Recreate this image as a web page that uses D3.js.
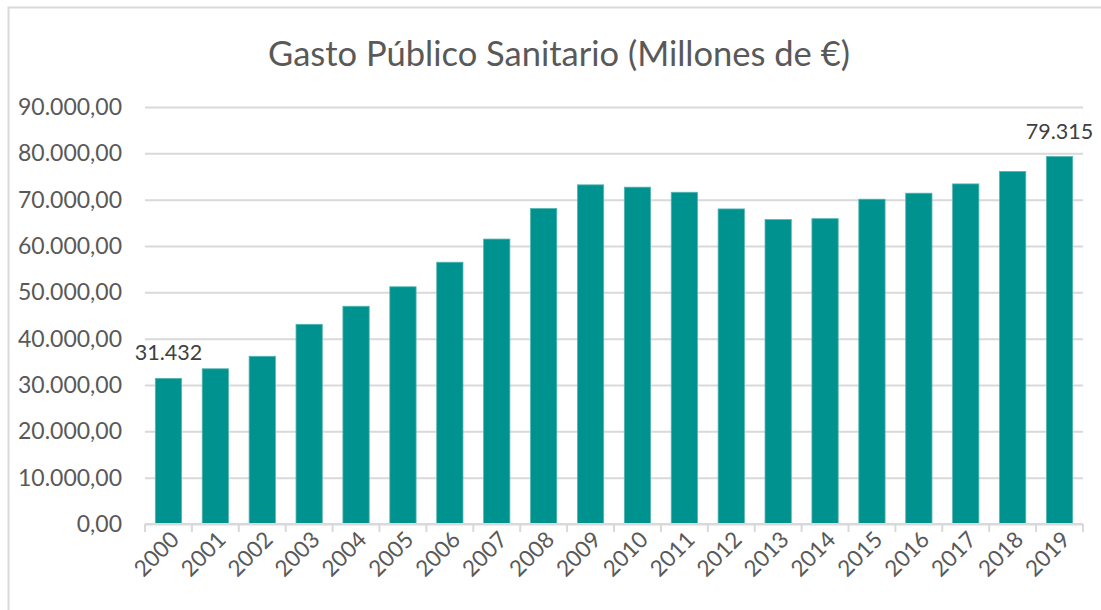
<!DOCTYPE html>
<html lang="es">
<head>
  <meta charset="UTF-8">
  <title>Gasto Público Sanitario</title>
  <script src="https://d3js.org/d3.v7.min.js"></script>
  <style>
    body { margin: 0; background: #fff; }
    svg { display: block; font-family: Lato, "Open Sans", sans-serif; }
  </style>
</head>
<body>
  <div class="canvas"></div>
  <script>
    // datos
    const years = ['2000','2001','2002','2003','2004','2005','2006','2007','2008','2009',
                   '2010','2011','2012','2013','2014','2015','2016','2017','2018','2019'];
    const gasto = [31432, 33500, 36200, 43100, 47000, 51200, 56500, 61500, 68100, 73200,
                   72700, 71600, 68000, 65700, 65900, 70100, 71400, 73400, 76100, 79315];
    const yTicks = [0, 10000, 20000, 30000, 40000, 50000, 60000, 70000, 80000, 90000];
    const labelled = ['2000', '2019'];
    const title = 'Gasto Público Sanitario (Millones de €)';

    const width = 1101;
    const height = 610;
    const [mt, mb, mr, ml] = [107, 86, 18, 145];
    const graphWidth = width - ml - mr;
    const graphHeight = height - mt - mb;

    const svg = d3.select('.canvas')
                  .append('svg')
                  .attr('width', width)
                  .attr('height', height);

    // marco del gráfico
    svg.append('rect')
       .attr('x', 8.5).attr('y', 7.5)
       .attr('width', 1200).attr('height', 700)
       .attr('fill', 'none')
       .attr('stroke', '#d9d9d9')
       .attr('stroke-width', 2);

    svg.append('text')
       .attr('x', 559).attr('y', 66)
       .attr('text-anchor', 'middle')
       .attr('font-size', 34.5)
       .attr('fill', '#595959')
       .text(title);

    const graph = svg.append('g')
                     .attr('transform', `translate(${ml}, ${mt})`);

    const x = d3.scaleBand()
                .domain(years)
                .range([0, graphWidth])
                .paddingInner(0.44)
                .paddingOuter(0.22);

    const y = d3.scaleLinear()
                .domain([0, 90000])
                .range([graphHeight, 0]);

    const fmt = d3.formatLocale({ decimal: ',', thousands: '.', grouping: [3], currency: ['', '€'] });

    // eje y (solo etiquetas + rejilla)
    const yAxis = d3.axisLeft(y)
                    .tickValues(yTicks)
                    .tickSize(-graphWidth)
                    .tickPadding(23)
                    .tickFormat(fmt.format(',.2f'));

    graph.append('g')
         .call(yAxis)
         .call(g => g.select('.domain').remove())
         .call(g => g.selectAll('.tick line').attr('stroke', '#d9d9d9').attr('stroke-width', 2))
         .call(g => g.selectAll('.tick text')
                     .attr('font-size', 23)
                     .attr('fill', '#595959')
                     .style('font-family', 'Lato, sans-serif'));

    // barras
    graph.selectAll('rect.bar')
         .data(years)
         .enter()
         .append('rect')
         .attr('class', 'bar')
         .attr('x', d => x(d))
         .attr('width', x.bandwidth())
         .attr('y', (d, i) => y(gasto[i]))
         .attr('height', (d, i) => graphHeight - y(gasto[i]))
         .attr('fill', '#00928f')
         .attr('stroke', '#55b5b2')
         .attr('stroke-width', 0.8);

    // etiquetas de datos
    graph.selectAll('text.lbl')
         .data(years.map((d, i) => ({ year: d, v: gasto[i] })).filter(d => labelled.includes(d.year)))
         .enter()
         .append('text')
         .attr('class', 'lbl')
         .attr('x', d => x(d.year) + x.bandwidth() / 2)
         .attr('y', d => y(d.v) - 18)
         .attr('text-anchor', 'middle')
         .attr('font-size', 21.5)
         .attr('fill', '#404040')
         .text(d => fmt.format(',.0f')(d.v));

    // eje x con marcas entre categorías
    const xAxisG = graph.append('g')
                        .attr('transform', `translate(0, ${graphHeight})`);

    xAxisG.append('line')
          .attr('x1', 0).attr('x2', graphWidth)
          .attr('stroke', '#d9d9d9').attr('stroke-width', 2);

    const step = x.step();
    const edge = step * 0.22;
    xAxisG.selectAll('line.tk')
          .data(years.concat(['end']))
          .enter()
          .append('line')
          .attr('class', 'tk')
          .attr('x1', (d, i) => i < years.length ? x(d) - edge : x(years[years.length - 1]) + x.bandwidth() + edge)
          .attr('x2', (d, i) => i < years.length ? x(d) - edge : x(years[years.length - 1]) + x.bandwidth() + edge)
          .attr('y1', 0).attr('y2', 8)
          .attr('stroke', '#d9d9d9').attr('stroke-width', 2);

    xAxisG.selectAll('text.yr')
          .data(years)
          .enter()
          .append('text')
          .attr('class', 'yr')
          .attr('text-anchor', 'end')
          .attr('font-size', 22.5)
          .attr('fill', '#595959')
          .attr('transform', d => `translate(${x(d) + x.bandwidth() / 2 + 12}, 17) rotate(-45)`)
          .text(d => d);
  </script>
</body>
</html>
